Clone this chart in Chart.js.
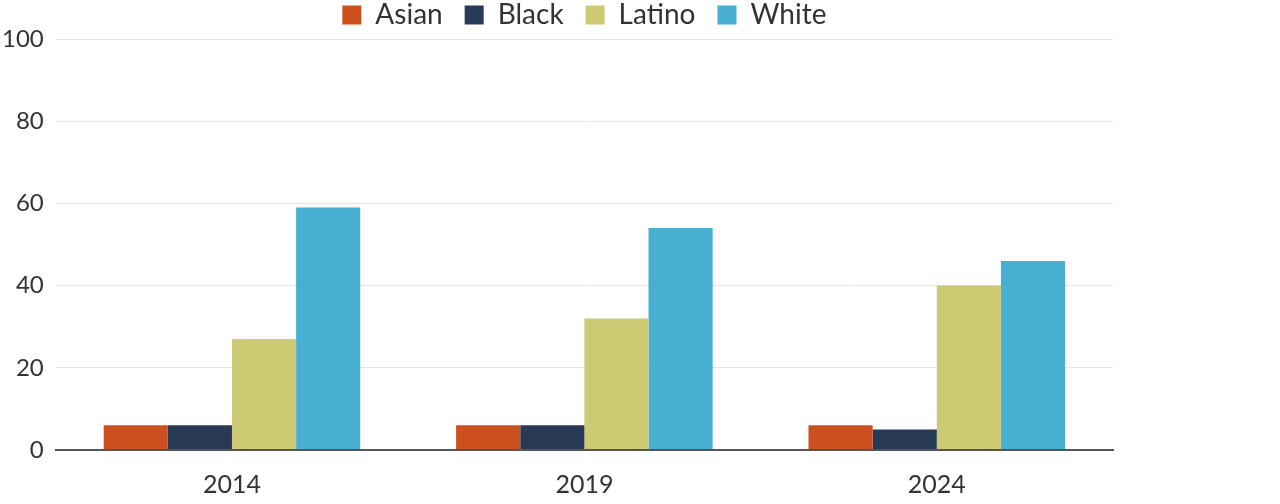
<!DOCTYPE html>
<html>
<head>
<meta charset="utf-8">
<script src="https://cdn.jsdelivr.net/npm/chart.js@4"></script>
<style>
  html, body { margin: 0; padding: 0; background: #fff; }
  .wrap { width: 1280px; height: 504px; position: relative; }
</style>
</head>
<body>
<div class="wrap"><canvas id="chart"></canvas></div>
<script>
const years = ["2014", "2019", "2024"];
const asian = [6, 6, 6];
const black = [6, 6, 5];
const latino = [27, 32, 40];
const white = [59, 54, 46];
const yTicks = [0, 20, 40, 60, 80, 100];

const FONT = "Lato, 'Open Sans', sans-serif";
const TEXT = "#333";

// keep the legend centred over the plot area rather than the whole canvas
const legendOverPlot = {
  id: "legendOverPlot",
  afterLayout(chart) {
    const lg = chart.legend;
    if (!lg) return;
    lg.left = chart.chartArea.left;
    lg.right = chart.chartArea.right;
  },
};

new Chart(document.getElementById("chart"), {
  type: "bar",
  data: {
    labels: years,
    datasets: [
      { label: "Asian", data: asian, backgroundColor: "#cc501d" },
      { label: "Black", data: black, backgroundColor: "#283a56" },
      { label: "Latino", data: latino, backgroundColor: "#cdca74" },
      { label: "White", data: white, backgroundColor: "#46afd2" },
    ],
  },
  plugins: [legendOverPlot],
  options: {
    responsive: true,
    maintainAspectRatio: false,
    animation: false,
    layout: { padding: { left: -10, right: 167, top: -21, bottom: -8 } },
    datasets: { bar: { barPercentage: 1, categoryPercentage: 0.728 } },
    plugins: {
      legend: {
        position: "top",
        labels: {
          boxWidth: 19,
          boxHeight: 19,
          padding: 22,
          color: TEXT,
          font: { family: FONT, size: 28 },
        },
      },
      tooltip: { enabled: false },
    },
    scales: {
      x: {
        grid: { display: false },
        border: { display: true, color: "#555", width: 2 },
        ticks: { color: TEXT, padding: 12, font: { family: FONT, size: 25 } },
      },
      y: {
        min: 0,
        max: 100,
        afterBuildTicks: (s) => { s.ticks = yTicks.map((v) => ({ value: v })); },
        border: { display: false },
        grid: {
          color: (c) => (c.tick && c.tick.value === 0 ? "#555" : "#e6e6e6"),
          lineWidth: (c) => (c.tick && c.tick.value === 0 ? 2 : 1),
          drawTicks: false,
        },
        ticks: { color: TEXT, padding: 12, font: { family: FONT, size: 24 } },
      },
    },
  },
});
</script>
</body>
</html>
